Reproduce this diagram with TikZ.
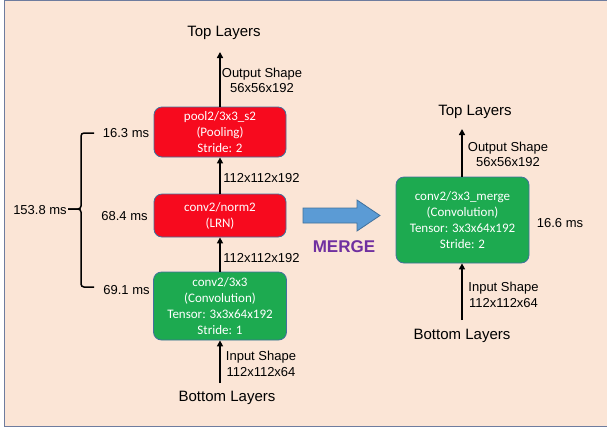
\documentclass[tikz,border=0pt]{standalone}
\usepackage{fontspec}
\setmainfont{Liberation Sans}
\newfontfamily\boxfont{Carlito}
\usetikzlibrary{arrows.meta}
\definecolor{panelfill}{HTML}{FBE5D6}
\definecolor{panelline}{HTML}{6E7C9E}
\definecolor{boxline}{HTML}{41719C}
\definecolor{layerred}{HTML}{F70A1E}
\definecolor{layergreen}{HTML}{1DAA50}
\definecolor{mergeblue}{HTML}{5B9BD5}
\definecolor{mergepurple}{HTML}{7030A0}
\tikzset{
	layer/.style={draw=boxline, line width=0.8pt, rounded corners=8pt, text=white, align=center,
		font=\boxfont\fontsize{13}{16}\selectfont, inner sep=0pt},
	flow/.style={line width=1.5pt, -{Triangle[width=6pt,length=6pt]}},
	tensorlabel/.style={font=\fontsize{13}{15.5}\selectfont, align=center, inner sep=0pt},
	ends/.style={font=\fontsize{15}{18}\selectfont, inner sep=0pt},
	timing/.style={font=\fontsize{13}{15}\selectfont, inner sep=0pt}
}
\begin{document}
\begin{tikzpicture}[x=1pt, y=-1pt]
		%%%%% PANEL %%%%%
		\useasboundingbox (0, 0) rectangle (607, 432);
		\begin{scope}
			\clip (0, 0) rectangle (607, 432);
			\draw[fill=panelfill, draw=panelline, line width=1.5pt] (4.5, 0.5) rectangle (620, 426.5);
		\end{scope}
		
		%%%%% ORIGINAL LAYERS %%%%%
		\node[layer, fill=layerred, minimum width=132pt, minimum height=50pt] (pool) at (220, 132) {pool2/3x3\_s2\\(Pooling)\\Stride: 2};
		\node[layer, fill=layerred, minimum width=132pt, minimum height=43pt] (norm) at (220, 215.5) {conv2/norm2\\(LRN)};
		\node[layer, fill=layergreen, minimum width=133pt, minimum height=68pt] (conv) at (220, 306) {conv2/3x3\\(Convolution)\\Tensor: 3x3x64x192\\Stride: 1};
		
		\node[ends] (top1) at (224, 33) {Top Layers};
		\node[ends] (bottom1) at (227, 398) {Bottom Layers};
		\coordinate (out1) at (220, 52);
		\coordinate (in1) at (220, 383);
		
		\draw[flow] (pool.north) -- (out1);
		\draw[flow] (norm.north) -- (pool.south);
		\draw[flow] (conv.north) -- (norm.south);
		\draw[flow] (in1) -- (conv.south);
		
		\node[tensorlabel] (outshape1) at (262, 80.5) {Output Shape\\56x56x192};
		\node[tensorlabel] (mid1) at (261.5, 178) {112x112x192};
		\node[tensorlabel] (mid2) at (261.5, 258) {112x112x192};
		\node[tensorlabel] (inshape1) at (261, 364) {Input Shape\\112x112x64};
		
		%%%%% TIMINGS %%%%%
		\node[timing] (tpool) at (126, 133) {16.3 ms};
		\node[timing] (tnorm) at (124.5, 216) {68.4 ms};
		\node[timing] (tconv) at (126.5, 290) {69.1 ms};
		\node[timing] (ttotal) at (40, 210) {153.8 ms};
		
		\draw[line width=1.5pt, rounded corners=3pt] (94, 133) -- (81, 133) -- (81, 209) -- (68, 209);
		\draw[line width=1.5pt, rounded corners=3pt] (68, 209) -- (81, 209) -- (81, 287) -- (94, 287);
		
		%%%%% MERGE ARROW %%%%%
		\draw[fill=mergeblue, draw=boxline, line width=0.8pt] (303, 208) -- (357, 208) -- (357, 200) -- (380, 215.5) -- (357, 231) -- (357, 223) -- (303, 223) -- cycle;
		\node[font=\fontsize{17}{20}\selectfont\bfseries, text=mergepurple, inner sep=0pt] (mergelabel) at (344, 247) {MERGE};
		
		%%%%% MERGED LAYER %%%%%
		\node[layer, fill=layergreen, minimum width=133pt, minimum height=86pt] (merged) at (462.5, 220) {conv2/3x3\_merge\\(Convolution)\\Tensor: 3x3x64x192\\Stride: 2};
		
		\node[ends] (top2) at (475, 112) {Top Layers};
		\node[ends] (bottom2) at (462, 336) {Bottom Layers};
		\coordinate (out2) at (462, 129);
		\coordinate (in2) at (462, 320);
		
		\draw[flow] (merged.north -| out2) -- (out2);
		\draw[flow] (in2) -- (merged.south -| in2);
		
		\node[tensorlabel] (outshape2) at (508, 154.5) {Output Shape\\56x56x192};
		\node[tensorlabel] (inshape2) at (503.5, 295) {Input Shape\\112x112x64};
		\node[timing] (tmerged) at (560, 223) {16.6 ms};
		
		%%%%% END %%%%%
	\end{tikzpicture}
\end{document}
